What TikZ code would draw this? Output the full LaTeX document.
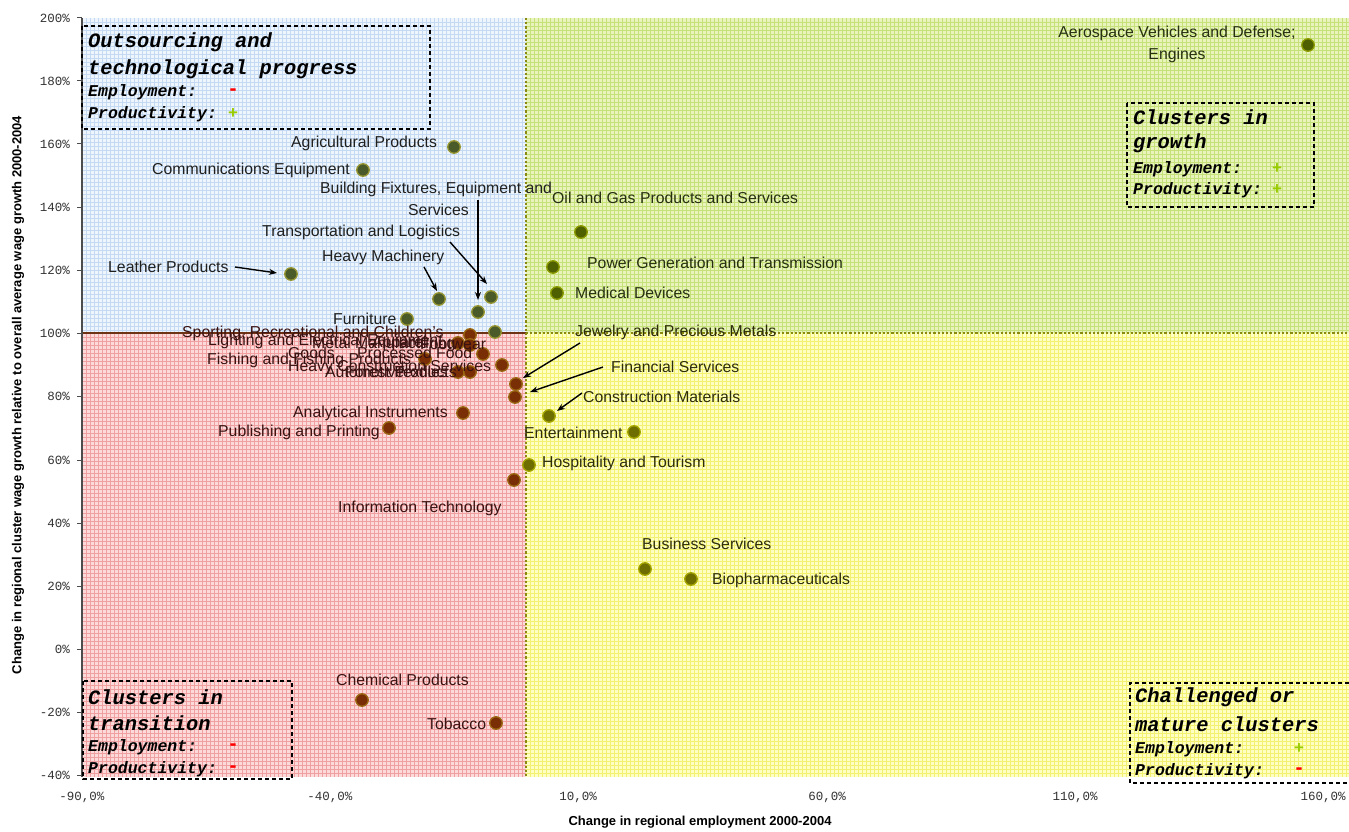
\documentclass[tikz,border=0pt]{standalone}
\usepackage{fontspec}
\setmainfont{Liberation Sans}
\newfontfamily\monof{Liberation Mono}
\usetikzlibrary{arrows.meta}
\definecolor{qblue}{HTML}{EEF5FC}
\definecolor{qblueg}{HTML}{C4DAF2}
\definecolor{qgreen}{HTML}{E8F4BC}
\definecolor{qgreeng}{HTML}{C6E07A}
\definecolor{qred}{HTML}{FCDADA}
\definecolor{qredg}{HTML}{F0A0A0}
\definecolor{qyel}{HTML}{FFFFC4}
\definecolor{qyelg}{HTML}{F2F270}
\definecolor{dotbl}{HTML}{4A5A28}
\definecolor{dotgr}{HTML}{4F6000}
\definecolor{dotrd}{HTML}{7A2E05}
\definecolor{dotye}{HTML}{6E6E00}
\definecolor{dotbld}{HTML}{969632}
\definecolor{dotgrd}{HTML}{8C9B00}
\definecolor{dotrdd}{HTML}{9B6914}
\definecolor{dotyed}{HTML}{A5A500}
\definecolor{olivel}{HTML}{8A8A10}
\definecolor{sepred}{HTML}{6E3214}
\definecolor{plusg}{HTML}{99CC00}
\definecolor{txtr}{HTML}{3A1212}
\definecolor{txty}{HTML}{2D2D0A}
\definecolor{txtg}{HTML}{263010}
\definecolor{axgrey}{HTML}{323232}
\tikzset{
  lbl/.style={anchor=west, inner sep=0pt, font=\fontsize{15.8}{19}\selectfont},
  lblb/.style={lbl, text=black!88},
  lblr/.style={lbl, text=txtr},
  lbly/.style={lbl, text=txty},
  lblg/.style={lbl, text=txtg},
  dotbase/.style={circle, minimum size=12.5pt, inner sep=0pt, line width=1.3pt},
  dbl/.style={dotbase, fill=dotbl, draw=dotbld},
  dgr/.style={dotbase, fill=dotgr, draw=dotgrd},
  drd/.style={dotbase, fill=dotrd, draw=dotrdd},
  dye/.style={dotbase, fill=dotye, draw=dotyed},
  arr/.style={-{Stealth[length=8pt,width=6pt]}, line width=1.4pt, black},
  qbox/.style={draw=black, line width=1.1pt, dash pattern=on 4pt off 3pt},
  qtitle/.style={anchor=west, inner sep=0pt, font=\monof\bfseries\itshape\fontsize{20.4}{24}\selectfont},
  qrow/.style={anchor=west, inner sep=0pt, font=\monof\bfseries\itshape\fontsize{16.5}{20}\selectfont},
  qsign/.style={inner sep=0pt, font=\bfseries\fontsize{17}{20}\selectfont},
  qminus/.style={inner sep=0pt, font=\bfseries\fontsize{21}{20}\selectfont, text=red},
  ytick/.style={anchor=east, inner sep=0pt, text=axgrey, font=\monof\fontsize{12.5}{14}\selectfont},
  xtick/.style={anchor=center, inner sep=0pt, text=axgrey, font=\monof\fontsize{12.5}{14}\selectfont},
  atitle/.style={inner sep=0pt, font=\bfseries\fontsize{13}{15}\selectfont},
  gl/.style={line width=0.6pt}
}
\begin{document}
\begin{tikzpicture}[x=1pt,y=-1pt]
\useasboundingbox (0,0) rectangle (1349,832);
\fill[white] (0,0) rectangle (1349,832);
% quadrant fills
\fill[qblue] (82,18) rectangle (526,333);
\fill[qgreen] (526,18) rectangle (1349,333);
\fill[qred] (82,333) rectangle (526,777);
\fill[qyel] (526,333) rectangle (1349,777);
% grid texture
\foreach \gx in {86,90,...,522}{
  \draw[gl, qblueg] (\gx,18) -- (\gx,333);
  \draw[gl, qredg] (\gx,333) -- (\gx,777);
}
\foreach \gx in {530,534,...,1346}{
  \draw[gl, qgreeng] (\gx,18) -- (\gx,333);
  \draw[gl, qyelg] (\gx,333) -- (\gx,777);
}
\foreach \gy in {22,26,...,330}{
  \draw[gl, qblueg] (82,\gy) -- (526,\gy);
  \draw[gl, qgreeng] (526,\gy) -- (1349,\gy);
}
\foreach \gy in {337,341,...,775}{
  \draw[gl, qredg] (82,\gy) -- (526,\gy);
  \draw[gl, qyelg] (526,\gy) -- (1349,\gy);
}
% separator lines
\draw[sepred, line width=1.6pt] (82,333) -- (526,333);
\draw[olivel, line width=2.2pt, dotted] (526,333) -- (1349,333);
\draw[olivel, line width=2.2pt, dotted] (526,18) -- (526,777);
% left axis
\draw[black!70, line width=1.5pt] (82,18) -- (82,777);
\foreach \yy/\tt in {18/200\%,81/180\%,144/160\%,207/140\%,270/120\%,333/100\%,396/80\%,460/60\%,523/40\%,586/20\%,649/0\%,712/-20\%,775/-40\%}{
  \draw[black!70, line width=1pt] (77,\yy) -- (82,\yy);
  \node[ytick] at (70,\yy) {\tt};
}
\foreach \xx/\tt in {82/-90{,}0\%,330/-40{,}0\%,578/10{,}0\%,827/60{,}0\%,1075/110{,}0\%,1323/160{,}0\%}{
  \node[xtick] at (\xx,797) {\tt};
}
% axis titles
\node[atitle] (xtitle) at (700,822) {Change in regional employment 2000-2004};
\node[atitle, rotate=90] (ytitle) at (18,395) {Change in regional cluster wage growth relative to overall average wage growth 2000-2004};

% quadrant boxes
\draw[qbox] (82,26) rectangle (430,129);
\node[qtitle] (q1a) at (88,42) {Outsourcing and};
\node[qtitle] (q1b) at (88,69) {technological progress};
\node[qrow] (q1c) at (88,92) {Employment:};
\node[qrow] (q1d) at (88,114) {Productivity:};
\node[qminus] (q1e) at (233,92) {-};
\node[qsign, text=plusg] (q1f) at (233,114) {+};

\draw[qbox] (1127,103) rectangle (1314,207);
\node[qtitle] (q2a) at (1133,117) {Clusters in};
\node[qtitle] (q2b) at (1133,143) {growth};
\node[qrow] (q2c) at (1133,169) {Employment:};
\node[qrow] (q2d) at (1133,190) {Productivity:};
\node[qsign, text=plusg] (q2e) at (1277,169) {+};
\node[qsign, text=plusg] (q2f) at (1277,190) {+};

\draw[qbox] (83,681) rectangle (292,779);
\node[qtitle] (q3a) at (88,697) {Clusters in};
\node[qtitle] (q3b) at (88,723) {transition};
\node[qrow] (q3c) at (88,747) {Employment:};
\node[qrow] (q3d) at (88,769) {Productivity:};
\node[qminus] (q3e) at (233,747) {-};
\node[qminus] (q3f) at (233,769) {-};

\draw[qbox] (1349,683) -- (1130,683) -- (1130,783) -- (1349,783);
\node[qtitle] (q4a) at (1135,697) {Challenged or};
\node[qtitle] (q4b) at (1135,724) {mature clusters};
\node[qrow] (q4c) at (1135,749) {Employment:};
\node[qrow] (q4d) at (1135,771) {Productivity:};
\node[qsign, text=plusg] (q4e) at (1299,749) {+};
\node[qminus] (q4f) at (1299,771) {-};

% dots
\node[dgr] (dAero) at (1308,45) {};
\node[dgr] (dOil) at (581,232) {};
\node[dgr] (dPower) at (553,267) {};
\node[dgr] (dMed) at (557,293) {};
\node[dbl] (dAgri) at (454,147) {};
\node[dbl] (dComm) at (363,170) {};
\node[dbl] (dLeather) at (291,274) {};
\node[dbl] (dHeavyM) at (439,299) {};
\node[dbl] (dTrans) at (491,297) {};
\node[dbl] (dBuild) at (478,312) {};
\node[dbl] (dFurn) at (407,319) {};
\node[dbl] (dSport) at (495,332) {};
\node[drd] (dC1) at (470,335) {};
\node[drd] (dC2) at (470,345) {};
\node[drd] (dC3) at (458,343) {};
\node[drd] (dProc) at (483,354) {};
\node[drd] (dHeavyC) at (502,365) {};
\node[drd] (dFish) at (425,359) {};
\node[drd] (dC4) at (458,372) {};
\node[drd] (dC5) at (470,372) {};
\node[drd] (dJewel) at (516,384) {};
\node[drd] (dFin) at (515,397) {};
\node[drd] (dAnal) at (463,413) {};
\node[drd] (dPub) at (389,428) {};
\node[drd] (dIT) at (514,480) {};
\node[drd] (dChem) at (362,700) {};
\node[drd] (dTob) at (496,723) {};
\node[dye] (dConst) at (549,416) {};
\node[dye] (dEnt) at (634,432) {};
\node[dye] (dHosp) at (529,465) {};
\node[dye] (dBus) at (645,569) {};
\node[dye] (dBio) at (691,579) {};

% labels
\node[lblg, anchor=center, align=center, font=\fontsize{15.8}{22}\selectfont] (lAero) at (1177,44) {Aerospace Vehicles and Defense;\\Engines};
\node[lblg] (lOil) at (552,198) {Oil and Gas Products and Services};
\node[lblg] (lPower) at (587,263) {Power Generation and Transmission};
\node[lblg] (lMed) at (575,293) {Medical Devices};
\node[lblb] (lAgri) at (291,143) {Agricultural Products};
\node[lblb] (lComm) at (152,170) {Communications Equipment};
\node[lblb] (lBuildA) at (320,189) {Building Fixtures, Equipment and};
\node[lblb] (lBuildB) at (408,210) {Services};
\node[lblb] (lTrans) at (262,232) {Transportation and Logistics};
\node[lblb] (lHeavyM) at (322,257) {Heavy Machinery};
\node[lblb] (lLeather) at (108,267) {Leather Products};
\node[lblb] (lFurn) at (333,319) {Furniture};
\node[lblr] (lSportA) at (182,333) {Sporting, Recreational and Children's};
\node[lblr] (lSportB) at (288,353) {Goods};
\node[lblr] (lLight) at (208,341) {Lighting and Electrical Equipment};
\node[lblr] (lMetal) at (312,344) {Metal Manufacturing};
\node[lblr] (lApp) at (372,343) {Apparel};
\node[lblr] (lFoot) at (420,344) {Footwear};
\node[lblr] (lProc) at (357,353) {Processed Food};
\node[lblr] (lFish) at (207,360) {Fishing and Fishing Products};
\node[lblr] (lHeavyC) at (288,367) {Heavy Construction Services};
\node[lblr] (lAuto) at (325,372) {Automotive};
\node[lblr] (lForest) at (345,372) {Forest Products};
\node[lblr] (lText) at (395,372) {Textiles};
\node[lbly] (lJewel) at (575,332) {Jewelry and Precious Metals};
\node[lbly] (lFin) at (611,367) {Financial Services};
\node[lbly] (lConst) at (583,397) {Construction Materials};
\node[lbly] (lEnt) at (524,433) {Entertainment};
\node[lbly] (lHosp) at (542,463) {Hospitality and Tourism};
\node[lblr] (lIT) at (338,508) {Information Technology};
\node[lblr] (lAnal) at (293,413) {Analytical Instruments};
\node[lblr] (lPub) at (218,432) {Publishing and Printing};
\node[lbly] (lBus) at (642,544) {Business Services};
\node[lbly] (lBio) at (712,580) {Biopharmaceuticals};
\node[lblr] (lChem) at (336,680) {Chemical Products};
\node[lblr] (lTob) at (427,724) {Tobacco};

% arrows
\coordinate (aLs) at (235,267); \coordinate (aLe) at (277,273);
\coordinate (aHs) at (424,267); \coordinate (aHe) at (437,291);
\coordinate (aTs) at (450,242); \coordinate (aTe) at (487,284);
\coordinate (aBs) at (478,200); \coordinate (aBe) at (478,300);
\coordinate (aJs) at (580,343); \coordinate (aJe) at (523,378);
\coordinate (aFs) at (603,367); \coordinate (aFe) at (530,392);
\coordinate (aCs) at (582,393); \coordinate (aCe) at (557,411);
\draw[arr] (aLs) -- (aLe);
\draw[arr] (aHs) -- (aHe);
\draw[arr] (aTs) -- (aTe);
\draw[arr] (aBs) -- (aBe);
\draw[arr] (aJs) -- (aJe);
\draw[arr] (aFs) -- (aFe);
\draw[arr] (aCs) -- (aCe);
\end{tikzpicture}
\end{document}
